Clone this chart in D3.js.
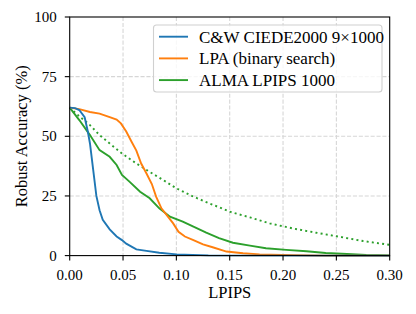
<!DOCTYPE html>
<html><head><meta charset="utf-8">
<script src="https://cdn.jsdelivr.net/npm/d3@7/dist/d3.min.js"></script>
</head><body style="margin:0">
<svg id="s" width="416" height="314"></svg>
<script>
const xTicks = [0, 0.05, 0.10, 0.15, 0.20, 0.25, 0.30];
const yTicks = [0, 25, 50, 75, 100];
const seriesNames = ["C&W CIEDE2000 9×1000", "LPA (binary search)", "ALMA LPIPS 1000"];

const cwX = [0, 0.005, 0.009, 0.014, 0.017, 0.019, 0.022, 0.025, 0.028, 0.031, 0.0375, 0.044, 0.049, 0.053, 0.0625, 0.072, 0.084, 0.1, 0.115, 0.13, 0.3];
const cwY = [62, 61.8, 61, 58, 52, 47, 36, 25, 19, 15, 11, 8, 6.5, 5, 2.6, 2, 1.2, 0.5, 0.3, 0.1, 0];

const lpaX = [0, 0.009, 0.019, 0.028, 0.0375, 0.044, 0.048, 0.053, 0.058, 0.0625, 0.067, 0.072, 0.077, 0.081, 0.086, 0.091, 0.097, 0.102, 0.108, 0.116, 0.125, 0.134, 0.147, 0.1625, 0.178, 0.21, 0.24, 0.3];
const lpaY = [62, 61.4, 60.2, 59.5, 58, 57, 55.4, 52, 47.7, 44, 38.6, 34.4, 30, 24.7, 19.8, 17, 13.5, 10, 8, 6.5, 4.7, 3.5, 1.7, 1, 0.5, 0.2, 0, 0];

const almaX = [0, 0.009, 0.019, 0.028, 0.0375, 0.044, 0.049, 0.056, 0.066, 0.075, 0.084, 0.094, 0.106, 0.116, 0.128, 0.14, 0.153, 0.169, 0.184, 0.203, 0.222, 0.24, 0.26, 0.278, 0.3];
const almaY = [62, 56.8, 50.5, 44.2, 41.4, 38, 33.8, 31, 26.8, 24, 19.8, 16.3, 14.2, 12.1, 9.6, 7.3, 5.4, 4.2, 3.1, 2.4, 1.8, 1.1, 0.7, 0.3, 0.1];

const almaDotX = [0, 0.009, 0.019, 0.028, 0.0375, 0.049, 0.0625, 0.075, 0.0875, 0.1, 0.116, 0.131, 0.15, 0.169, 0.1875, 0.209, 0.231, 0.253, 0.275, 0.3];
const almaDotY = [62, 58.4, 54.7, 50.5, 47, 42.8, 38.6, 35.1, 31.7, 28.2, 24.7, 21.9, 18.4, 16, 13.5, 11.4, 9.6, 7.9, 6.1, 4.5];

const colors = ["#1f77b4", "#ff7f0e", "#2ca02c"];

const svg = d3.select("#s");
const m = {left: 69.7, right: 389.7, top: 17, bottom: 255.6};
const x = d3.scaleLinear().domain([0, 0.30]).range([m.left, m.right]);
const y = d3.scaleLinear().domain([0, 100]).range([m.bottom, m.top]);
const fonts = ["Liberation Serif"];
const font = fonts[0];

// grid
svg.selectAll("line.gx").data(xTicks.slice(1, -1)).enter().append("line")
  .attr("x1", d => x(d)).attr("x2", d => x(d)).attr("y1", m.top).attr("y2", m.bottom)
  .attr("stroke", "#d6d6d6").attr("stroke-width", 1.1).attr("stroke-dasharray", "4.1,1.8");
svg.selectAll("line.gy").data(yTicks.slice(1, -1)).enter().append("line")
  .attr("y1", d => y(d)).attr("y2", d => y(d)).attr("x1", m.left).attr("x2", m.right)
  .attr("stroke", "#d6d6d6").attr("stroke-width", 1.1).attr("stroke-dasharray", "4.1,1.8");

const line = d3.line().x(d => x(d[0])).y(d => y(d[1]));
const zip = (a, b) => a.map((v, i) => [v, b[i]]);
[[almaDotX, almaDotY, colors[2], "2,3.2"], [almaX, almaY, colors[2], null],
 [lpaX, lpaY, colors[1], null], [cwX, cwY, colors[0], null]].forEach(([xs, ys, c, dash]) => {
  svg.append("path").datum(zip(xs, ys)).attr("d", line).attr("fill", "none")
    .attr("stroke", c).attr("stroke-width", 1.9).attr("stroke-dasharray", dash);
});

// ticks (drawn from scales)
xTicks.forEach(t => {
  svg.append("line").attr("x1", x(t)).attr("x2", x(t)).attr("y1", m.bottom).attr("y2", m.bottom + 4.9)
    .attr("stroke", "#000").attr("stroke-width", 1.1);
  svg.append("text").attr("x", x(t)).attr("y", 279.5).style("font-family", font).attr("font-size", 15)
    .attr("text-anchor", "middle").text(d3.format(".2f")(t));
});
yTicks.forEach(t => {
  svg.append("line").attr("x1", m.left - 4.9).attr("x2", m.left).attr("y1", y(t)).attr("y2", y(t))
    .attr("stroke", "#000").attr("stroke-width", 1.1);
  svg.append("text").attr("x", m.left - 13).attr("y", y(t) + 5).style("font-family", font).attr("font-size", 15)
    .attr("text-anchor", "end").text(String(t));
});
svg.append("rect").attr("x", m.left).attr("y", m.top).attr("width", m.right - m.left).attr("height", m.bottom - m.top)
  .attr("fill", "none").attr("stroke", "#000").attr("stroke-width", 1.1);

svg.append("text").attr("x", (m.left + m.right) / 2).attr("y", 298).attr("text-anchor", "middle")
  .style("font-family", font).attr("font-size", 16.5).text("LPIPS");
svg.append("text").attr("transform", `translate(26.8,${(m.top + m.bottom) / 2}) rotate(-90)`)
  .attr("text-anchor", "middle").style("font-family", font).attr("font-size", 16.5)
  .text("Robust Accuracy (%)");

// legend
svg.append("rect").attr("x", 153.5).attr("y", 25).attr("width", 228.5).attr("height", 67).attr("rx", 3)
  .attr("fill", "#fff").attr("fill-opacity", 0.8).attr("stroke", "#d0d0d0").attr("stroke-width", 1.1);
seriesNames.forEach((name, i) => {
  const yy = 36.7 + i * 21.7;
  svg.append("line").attr("x1", 159).attr("x2", 188).attr("y1", yy).attr("y2", yy)
    .attr("stroke", colors[i]).attr("stroke-width", 1.9);
  svg.append("text").attr("x", 199).attr("y", yy + 5.8)
    .style("font-family", font).attr("font-size", 17).text(name);
});
</script>
</body></html>
